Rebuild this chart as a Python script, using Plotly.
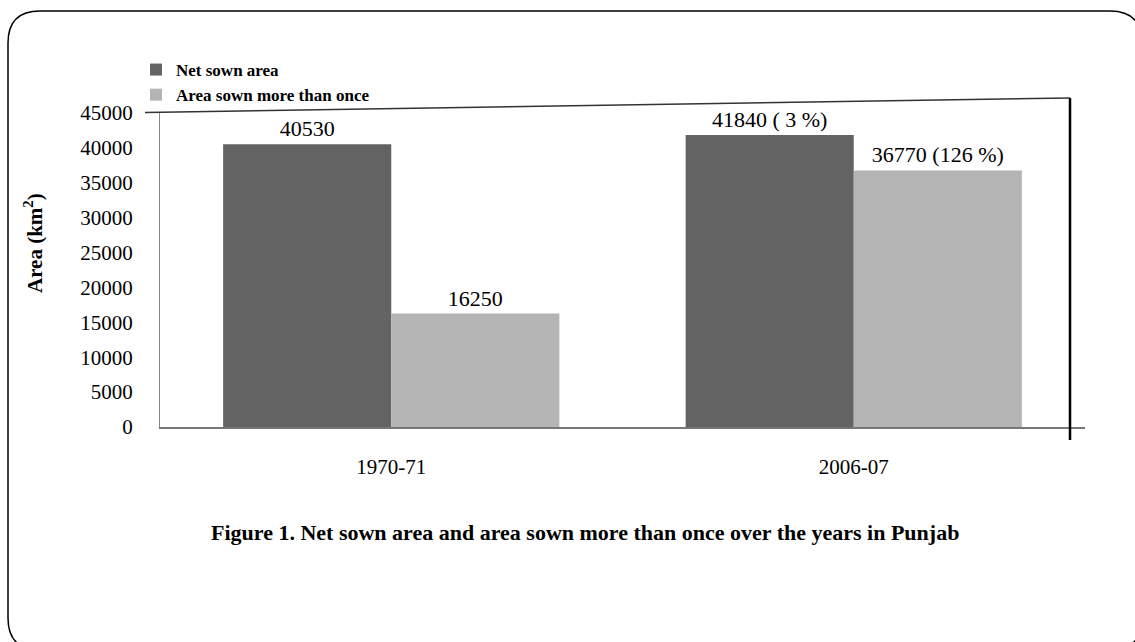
import plotly.graph_objects as go

# ---- data ----
years = ["1970-71", "2006-07"]
net_sown = [40530, 41840]
sown_more = [16250, 36770]
net_labels = ["40530", "41840 ( 3 %)"]
more_labels = ["16250", "36770 (126 %)"]
y_ticks = [0, 5000, 10000, 15000, 20000, 25000, 30000, 35000, 40000, 45000]
y_tick_text = ["0", "5000", "10000", "15000", "20000", "25000", "30000", "35000", "40000", "45000"]
series_names = ["Net sown area", "Area sown more than once"]
caption = "Figure 1. Net sown area and area sown more than once over the years in Punjab"
y_title = "Area (km<sup>2</sup>)"

W, H = 1135, 642
L, R, T, B = 160, 1085, 113, 427
SERIF = "Liberation Serif, Times New Roman, serif"


def px(x, y):
    return (x - L) / (R - L), (B - y) / (B - T)


fig = go.Figure()
fig.add_trace(go.Bar(
    x=years, y=net_sown, name=series_names[0],
    marker=dict(color="#636363", line=dict(width=0)),
    text=net_labels, textposition="outside", cliponaxis=False,
    textfont=dict(family=SERIF, size=22, color="black"),
))
fig.add_trace(go.Bar(
    x=years, y=sown_more, name=series_names[1],
    marker=dict(color="#b4b4b4", line=dict(width=0)),
    text=more_labels, textposition="outside", cliponaxis=False,
    textfont=dict(family=SERIF, size=22, color="black"),
))

shapes = []
# rounded outer border
x0, y0, x1, y1, r = 8, 11, 1142, 650, 32


def P(x, y):
    a, b = px(x, y)
    return f"{a:.5f},{b:.5f}"


path = (f"M{P(x0 + r, y0)} L{P(x1 - r, y0)} Q{P(x1, y0)} {P(x1, y0 + r)} "
        f"L{P(x1, y1 - r)} Q{P(x1, y1)} {P(x1 - r, y1)} "
        f"L{P(x0 + r, y1)} Q{P(x0, y1)} {P(x0, y1 - r)} "
        f"L{P(x0, y0 + r)} Q{P(x0, y0)} {P(x0 + r, y0)} Z")
shapes.append(dict(type="path", xref="paper", yref="paper", path=path,
                   line=dict(color="black", width=1.5), layer="above"))
# slanted top line
a0, b0 = px(145, 112.5)
a1, b1 = px(1070, 98)
shapes.append(dict(type="line", xref="paper", yref="paper", x0=a0, y0=b0, x1=a1, y1=b1,
                   line=dict(color="#333333", width=1.5)))
# right vertical black line
a0, b0 = px(1070, 98)
a1, b1 = px(1070, 440)
shapes.append(dict(type="line", xref="paper", yref="paper", x0=a0, y0=b0, x1=a1, y1=b1,
                   line=dict(color="black", width=2.5)))

ax, ay = px(585, 532)
tx, ty = px(33, 243)
annotations = [
    dict(text=f"<b>{caption}</b>", xref="paper", yref="paper", x=ax, y=ay,
         showarrow=False, xanchor="center", yanchor="middle",
         font=dict(family=SERIF, size=22, color="black")),
    dict(text=f"<b>{y_title}</b>", xref="paper", yref="paper", x=tx, y=ty,
         showarrow=False, xanchor="center", yanchor="middle", textangle=-90,
         font=dict(family=SERIF, size=21, color="black")),
]

lx, ly = px(136, 52)
fig.update_layout(
    width=W, height=H,
    margin=dict(l=L, r=W - R, t=T, b=H - B, autoexpand=False),
    paper_bgcolor="white", plot_bgcolor="white",
    barmode="group", bargap=0.273, bargroupgap=0,
    font=dict(family=SERIF, size=20, color="black"),
    showlegend=True,
    legend=dict(x=lx, y=ly, xanchor="left", yanchor="top", orientation="v",
                font=dict(family=SERIF, size=17, color="black", weight="bold"),
                bgcolor="rgba(0,0,0,0)", itemwidth=30, tracegroupgap=0),
    xaxis=dict(type="category", showgrid=False, showline=True, linecolor="#777777",
               linewidth=1.5, ticks="outside", ticklen=20, tickcolor="rgba(0,0,0,0)",
               tickfont=dict(family=SERIF, size=21, color="black"),
               zeroline=False),
    yaxis=dict(range=[0, 45000], tickvals=y_ticks, ticktext=y_tick_text, showgrid=False,
               showline=True, linecolor="#888888", linewidth=1, zeroline=False,
               ticks="outside", ticklen=22, tickcolor="rgba(0,0,0,0)",
               tickfont=dict(family=SERIF, size=21, color="black")),
    shapes=shapes, annotations=annotations,
)

fig.write_html("out.html", config={"displayModeBar": False},
               post_script="document.body.style.margin='0';")
